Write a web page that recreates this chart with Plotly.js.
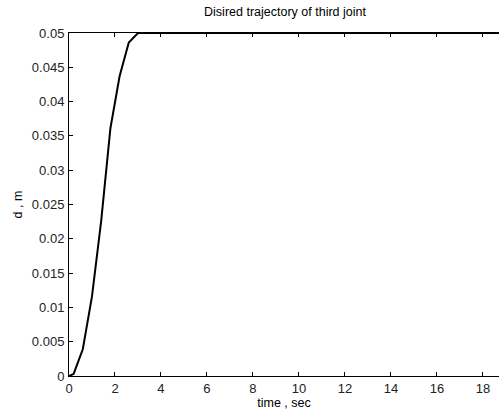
<!DOCTYPE html>
<html>
<head>
<meta charset="utf-8">
<script src="https://cdn.plot.ly/plotly-3.0.1.min.js"></script>
<style>html,body{margin:0;padding:0;overflow:hidden;background:#fff;}</style>
</head>
<body>
<div id="chart" style="width:499px;height:414px;"></div>
<script>
var timeSec = [0, 0.2, 0.6, 1.0, 1.4, 1.8, 2.2, 2.6, 3.0, 20];
var dMeters = [0, 0.0003, 0.0039, 0.0116, 0.0226, 0.0361, 0.0437, 0.0486, 0.05, 0.05];
var titleText = 'Disired trajectory of third joint';
var xLabel = 'time , sec';
var yLabel = 'd , m';

var trace = {
  x: timeSec, y: dMeters, type: 'scatter', mode: 'lines',
  line: {color: '#000', width: 2}, hoverinfo: 'skip', cliponaxis: false
};
var fam = 'Liberation Sans, Arial, sans-serif';
var axisFont = {family: fam, size: 13, color: '#222'};
var layout = {
  width: 499, height: 414,
  margin: {l: 69, r: 0, t: 33, b: 38, pad: 0},
  paper_bgcolor: '#fff', plot_bgcolor: '#fff',
  showlegend: false,
  title: {text: titleText, x: 285/499, xref: 'container', xanchor: 'center',
          y: 1 - 12/414, yanchor: 'middle', yref: 'container',
          font: {family: fam, size: 12.5, color: '#000'}},
  xaxis: {
    range: [0, 18.7], dtick: 2, tick0: 0, showgrid: false, zeroline: false,
    showline: true, linecolor: '#000', linewidth: 1, mirror: 'ticks',
    ticks: 'inside', ticklen: 4, tickcolor: '#000', tickwidth: 1,
    tickfont: axisFont,
    title: {text: xLabel, standoff: 3, font: {family: fam, size: 12.5, color: '#000'}}
  },
  yaxis: {
    range: [0, 0.05], dtick: 0.005, tick0: 0, showgrid: false, zeroline: false,
    showline: true, linecolor: '#000', linewidth: 1,
    ticks: 'inside', ticklen: 4, tickcolor: '#000', tickwidth: 1,
    tickfont: axisFont, ticklabelstandoff: 1,
    title: {text: yLabel, standoff: 6, font: {family: fam, size: 12.5, color: '#000'}}
  }
};
Plotly.newPlot('chart', [trace], layout, {displayModeBar: false, staticPlot: true});
</script>
</body>
</html>
